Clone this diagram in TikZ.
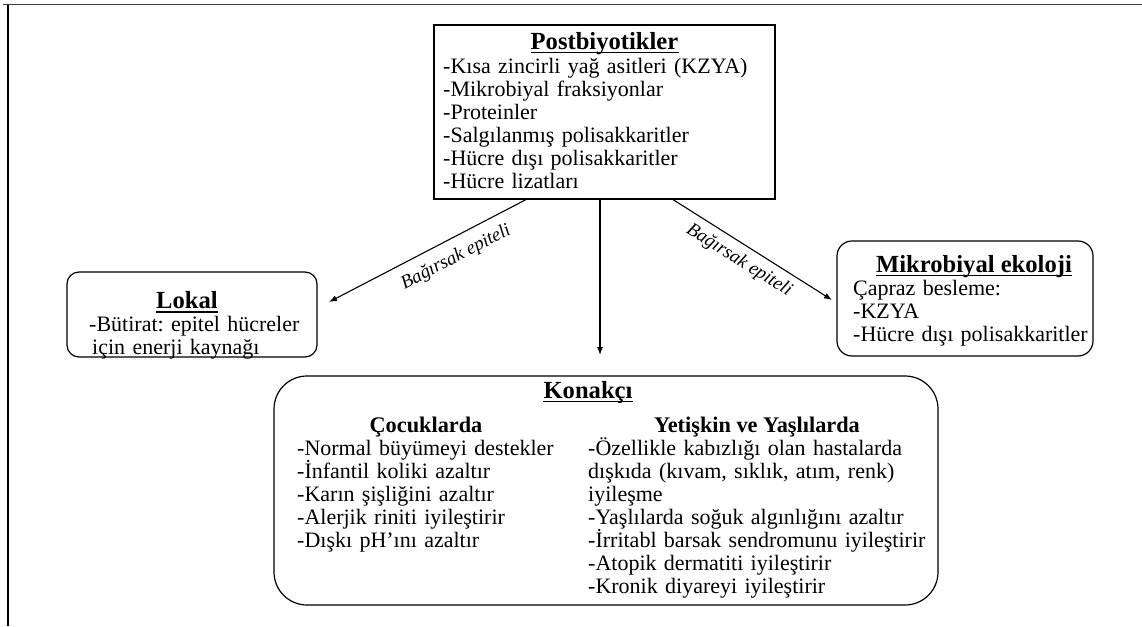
\documentclass[tikz,border=0pt]{standalone}
\usepackage{fontspec}
\setmainfont{Liberation Serif}
\usetikzlibrary{arrows.meta,calc}
\begin{document}
\frenchspacing
\begin{tikzpicture}[x=1pt,y=-1pt,
  box/.style={draw, line width=1.2pt, inner sep=0pt},
  bodytext/.style={font=\fontsize{22}{23}\selectfont, inner sep=0pt, align=left, text width=#1, anchor=base west},
  titletext/.style={font=\fontsize{24.6}{26}\selectfont\bfseries, inner sep=0pt, anchor=base},
  subtext/.style={font=\fontsize{22.3}{24}\selectfont\bfseries, inner sep=0pt, anchor=base},
  uline/.style={line width=1.3pt},
  lab/.style={font=\fontsize{19}{21}\selectfont\itshape, inner sep=2pt, sloped},
  conn/.style={line width=1.1pt, -{Latex[length=8pt,width=6pt]}}]
\useasboundingbox (0,0) rectangle (1142,626);
\fill[white] (0,0) rectangle (1142,626);
% outer frame (only top and left edges visible)
\draw[line width=1.8pt, black!75] (3,4.5) -- (1142,4.5);
\draw[line width=1.2pt] (8,5) -- (8,626);

% Postbiyotikler
\node[box, minimum width=341pt, minimum height=174pt] (post) at (604.5,112) {};
\node[titletext] (postT) at (604.5,49) {Postbiyotikler};
\node[bodytext=330pt] (postL) at (443,73.5) {-Kısa zincirli yağ asitleri (KZYA)\\-Mikrobiyal fraksiyonlar\\-Proteinler\\-Salgılanmış polisakkaritler\\-Hücre dışı polisakkaritler\\-Hücre lizatları};

% Lokal
\node[box, rounded corners=12pt, minimum width=250pt, minimum height=85pt] (lokal) at (192,314.5) {};
\node[titletext] (lokalT) at (187,308.5) {Lokal};
\node[bodytext=225pt] (lokalL) at (89,331.5) {-Bütirat: epitel hücreler\\\hspace*{3pt}için enerji kaynağı};

% Mikrobiyal ekoloji
\node[box, rounded corners=15pt, minimum width=256pt, minimum height=115pt] (mikro) at (965,298.5) {};
\node[titletext] (mikroT) at (974,272) {Mikrobiyal ekoloji};
\node[bodytext=235pt] (mikroL) at (853,295.5) {Çapraz besleme:\\-KZYA\\-Hücre dışı polisakkaritler};

% Konakci
\node[box, rounded corners=33pt, minimum width=664pt, minimum height=229pt] (kon) at (606,490.5) {};
\node[titletext] (konT) at (588,398) {Konakçı};
\node[subtext] (cocT) at (426,432.5) {Çocuklarda};
\node[subtext] (yetT) at (757,432.5) {Yetişkin ve Yaşlılarda};
\node[bodytext=270pt] (cocL) at (297,455.5) {-Normal büyümeyi destekler\\-İnfantil koliki azaltır\\-Karın şişliğini azaltır\\-Alerjik riniti iyileştirir\\-Dışkı pH’ını azaltır};
\node[bodytext=345pt] (yetL) at (588,455.5) {-Özellikle kabızlığı olan hastalarda\\dışkıda (kıvam, sıklık, atım, renk)\\iyileşme\\-Yaşlılarda soğuk algınlığını azaltır\\-İrritabl barsak sendromunu iyileştirir\\-Atopik dermatiti iyileştirir\\-Kronik diyareyi iyileştirir};

% title underlines
\foreach \n in {postT,lokalT,mikroT,konT}
  \draw[uline] ([yshift=-3.5pt]\n.base west) -- ([yshift=-3.5pt]\n.base east);

% connectors
\coordinate (lokalTip) at (329,302);
\coordinate (mikroTip) at (832,300);
\coordinate (konTip) at (600,355);
\draw[conn] ([xshift=-78.5pt]post.south) -- node[lab, below=8pt, pos=0.40] (labL) {Bağırsak epiteli} (lokalTip);
\draw[conn] ([xshift=68.5pt]post.south) -- node[lab, below=5pt, pos=0.47] (labR) {Bağırsak epiteli} (mikroTip);
\draw[conn] (post.south -| konTip) -- (konTip);
\end{tikzpicture}
\end{document}
